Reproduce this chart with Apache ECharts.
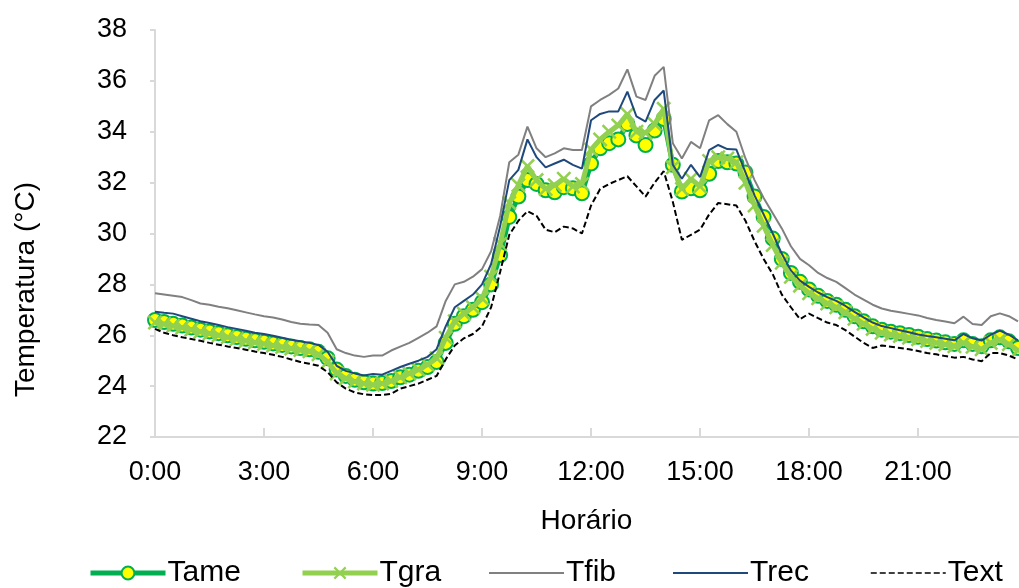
<!DOCTYPE html>
<html>
<head>
<meta charset="utf-8">
<script src="https://cdn.jsdelivr.net/npm/echarts@6/dist/echarts.min.js"></script>
<style>
  html, body { margin: 0; padding: 0; background: #ffffff; }
  #chart { width: 1019px; height: 588px; }
</style>
</head>
<body>
<div id="chart"></div>
<script>
// Daily temperature record, one reading every 15 minutes (0:00 – 23:45), in °C
const hours = ['0', '1', '2', '3', '4', '5', '6', '7', '8', '9', '10', '11',
               '12', '13', '14', '15', '16', '17', '18', '19', '20', '21', '22', '23'];
const minutes = ['00', '15', '30', '45'];
const categories = [];
hours.forEach(h => minutes.forEach(m => categories.push(h + ':' + m)));

const seriesNames = ['Tame', 'Tgra', 'Tfib', 'Trec', 'Text'];

const tame = [
  26.60, 26.52, 26.45, 26.38, 26.30, 26.22, 26.15, 26.08, 26.00, 25.93, 25.86, 25.80,
  25.74, 25.68, 25.62, 25.56, 25.50, 25.45, 25.35, 25.10, 24.65, 24.40, 24.25, 24.15,
  24.10, 24.12, 24.20, 24.35, 24.45, 24.60, 24.75, 24.95, 25.70, 26.45, 26.75, 27.00,
  27.30, 28.00, 29.15, 30.65, 31.45, 32.10, 31.95, 31.70, 31.62, 31.82, 31.78, 31.58,
  32.75, 33.35, 33.55, 33.70, 34.30, 33.85, 33.48, 34.05, 34.50, 32.70, 31.65, 31.78,
  31.70, 32.35, 32.85, 32.80, 32.75, 32.40, 31.45, 30.65, 29.80, 29.00, 28.45, 28.10,
  27.80, 27.55, 27.35, 27.20, 27.00, 26.75, 26.55, 26.35, 26.22, 26.14, 26.08, 26.01,
  25.94, 25.85, 25.79, 25.72, 25.66, 25.80, 25.66, 25.57, 25.80, 25.92, 25.76, 25.50
];

const tgra = [
  26.50, 26.44, 26.37, 26.30, 26.22, 26.14, 26.07, 26.00, 25.92, 25.85, 25.78, 25.72,
  25.66, 25.60, 25.54, 25.48, 25.42, 25.37, 25.25, 24.95, 24.50, 24.30, 24.18, 24.10,
  24.05, 24.10, 24.20, 24.35, 24.50, 24.65, 24.85, 25.10, 25.90, 26.55, 26.85, 27.10,
  27.45, 28.30, 29.60, 31.20, 31.90, 32.65, 32.10, 31.75, 31.90, 32.15, 31.85, 31.95,
  33.30, 33.70, 34.00, 34.25, 34.70, 34.00, 33.95, 34.30, 34.90, 32.60, 31.75, 32.15,
  31.85, 32.85, 33.00, 32.95, 32.80, 32.00, 31.10, 30.30, 29.55, 28.85, 28.30, 27.95,
  27.65, 27.45, 27.25, 27.10, 26.90, 26.65, 26.45, 26.25, 26.10, 26.03, 25.97, 25.90,
  25.84, 25.77, 25.70, 25.64, 25.57, 25.70, 25.55, 25.45, 25.70, 25.82, 25.65, 25.40
];

const tfib = [
  27.65, 27.60, 27.55, 27.50, 27.38, 27.25, 27.20, 27.12, 27.06, 26.98, 26.90, 26.82,
  26.75, 26.70, 26.62, 26.52, 26.45, 26.42, 26.40, 26.10, 25.45, 25.30, 25.20, 25.15,
  25.20, 25.20, 25.40, 25.55, 25.70, 25.90, 26.10, 26.35, 27.35, 28.00, 28.10, 28.30,
  28.60, 29.30, 30.70, 32.80, 33.10, 34.20, 33.35, 33.00, 33.15, 33.35, 33.28, 33.28,
  35.00, 35.25, 35.45, 35.70, 36.45, 35.38, 35.25, 36.20, 36.55, 33.55, 32.95, 33.60,
  33.35, 34.45, 34.65, 34.30, 34.00, 32.95, 32.10, 31.40, 30.80, 30.20, 29.50, 29.00,
  28.75, 28.45, 28.25, 28.10, 27.85, 27.60, 27.40, 27.20, 27.05, 26.96, 26.90, 26.84,
  26.78, 26.68, 26.60, 26.54, 26.47, 26.73, 26.44, 26.40, 26.75, 26.86, 26.75, 26.55
];

const trec = [
  26.92, 26.88, 26.85, 26.75, 26.65, 26.55, 26.48, 26.40, 26.32, 26.25, 26.18, 26.10,
  26.05, 25.98, 25.90, 25.82, 25.76, 25.70, 25.62, 25.35, 24.80, 24.60, 24.50, 24.42,
  24.48, 24.45, 24.60, 24.75, 24.88, 25.00, 25.15, 25.45, 26.35, 27.10, 27.35, 27.60,
  28.00, 28.80, 30.30, 32.10, 32.50, 33.70, 33.00, 32.60, 32.75, 32.90, 32.70, 32.55,
  34.45, 34.70, 34.80, 34.80, 35.58, 34.60, 34.40, 35.25, 35.62, 32.70, 32.15, 32.70,
  32.22, 33.28, 33.48, 33.32, 33.30, 32.40, 31.50, 30.75, 30.00, 29.20, 28.55, 28.15,
  27.90, 27.68, 27.50, 27.35, 27.15, 26.92, 26.70, 26.50, 26.36, 26.28, 26.20, 26.12,
  26.03, 25.97, 25.92, 25.86, 25.80, 26.05, 25.88, 25.79, 26.02, 26.18, 26.02, 25.80
];

const text = [
  26.25, 26.10, 26.00, 25.92, 25.85, 25.78, 25.70, 25.63, 25.56, 25.50, 25.43, 25.36,
  25.30, 25.23, 25.15, 25.05, 24.95, 24.88, 24.80, 24.55, 24.15, 23.90, 23.75, 23.68,
  23.65, 23.65, 23.70, 23.90, 24.00, 24.10, 24.25, 24.40, 25.05, 25.60, 25.88, 26.05,
  26.35, 27.10, 28.50, 29.95, 30.50, 30.88, 30.70, 30.15, 30.05, 30.27, 30.20, 30.00,
  31.10, 31.75, 31.95, 32.10, 32.25, 31.85, 31.45, 32.00, 32.45, 31.25, 29.75, 29.95,
  30.15, 30.75, 31.20, 31.15, 31.10, 30.50, 29.70, 29.00, 28.40, 27.60, 27.10, 26.63,
  26.85, 26.67, 26.50, 26.40, 26.20, 25.95, 25.70, 25.50, 25.60, 25.55, 25.50, 25.45,
  25.38, 25.30, 25.25, 25.18, 25.12, 25.15, 25.05, 24.98, 25.30, 25.30, 25.20, 25.05
];

const yTicks = { min: 22, max: 38, step: 2 };

const FONT = 'Liberation Sans, Arial, sans-serif';
const AXIS_GREY = '#d9d9d9';

// thin "x" cross used as the Tgra marker
const crossPath = 'path://M0,1.2L1.2,0L5,3.8L8.8,0L10,1.2L6.2,5L10,8.8L8.8,10L5,6.2L1.2,10L0,8.8L3.8,5Z';

// legend line weights follow the series they stand for
const legendLineWidth = [5, 5, 2, 2, 1.5];

// one legend block per series, laid out left to right along the bottom
const legendLeft = [88, 300, 488, 672, 870];
const legends = seriesNames.map((name, i) => ({
  data: [{
    name,
    itemStyle: i >= 2 ? { opacity: 0 } : undefined,
    lineStyle: { width: legendLineWidth[i] }
  }],
  left: legendLeft[i],
  top: 558,
  itemWidth: 75,
  itemHeight: 16,
  padding: 0,
  selectedMode: false,
  textStyle: { fontFamily: FONT, fontSize: 30, color: '#000000', padding: [0, 0, 0, -3] }
}));

const chart = echarts.init(document.getElementById('chart'), null, { renderer: 'canvas' });

chart.setOption({
  animation: false,
  backgroundColor: '#ffffff',
  textStyle: { fontFamily: FONT },
  grid: { left: 155, right: 1, top: 30, bottom: 151, containLabel: false },
  legend: legends,
  graphic: [{
    type: 'text',
    left: 12,
    top: 182,
    rotation: Math.PI / 2,
    style: {
      text: 'Temperatura (°C)',
      fontFamily: FONT,
      fontSize: 28,
      fill: '#000000'
    }
  }],
  xAxis: {
    type: 'category',
    data: categories,
    boundaryGap: false,
    name: 'Horário',
    nameLocation: 'middle',
    nameGap: 70,
    nameTextStyle: { fontFamily: FONT, fontSize: 28, color: '#000000' },
    axisLine: { lineStyle: { color: AXIS_GREY, width: 2 } },
    axisTick: { show: true, inside: true, length: 9, interval: 11, lineStyle: { color: AXIS_GREY, width: 2 } },
    axisLabel: { interval: 11, margin: 22, fontFamily: FONT, fontSize: 27, color: '#000000' },
    splitLine: { show: false }
  },
  yAxis: {
    type: 'value',
    min: yTicks.min,
    max: yTicks.max,
    interval: yTicks.step,
    axisLine: { show: true, lineStyle: { color: AXIS_GREY, width: 2 } },
    axisTick: { show: true, inside: false, length: 5, lineStyle: { color: AXIS_GREY, width: 2 } },
    axisLabel: { margin: 28, fontFamily: FONT, fontSize: 27, color: '#000000' },
    splitLine: { show: false }
  },
  series: [
    {
      name: 'Tame', type: 'line', data: tame, z: 2,
      symbol: 'circle', symbolSize: 14, showSymbol: true, showAllSymbol: true,
      lineStyle: { color: '#00b050', width: 5 },
      itemStyle: { color: '#ffff00', borderColor: '#00b050', borderWidth: 2 }
    },
    {
      name: 'Tgra', type: 'line', data: tgra, z: 3,
      symbol: crossPath, symbolSize: 15, showSymbol: true, showAllSymbol: true,
      lineStyle: { color: '#92d050', width: 5 },
      itemStyle: { color: '#92d050', borderWidth: 0 }
    },
    {
      name: 'Tfib', type: 'line', data: tfib, z: 4,
      symbol: 'none',
      lineStyle: { color: '#808080', width: 2 },
      itemStyle: { color: '#808080' }
    },
    {
      name: 'Trec', type: 'line', data: trec, z: 5,
      symbol: 'none',
      lineStyle: { color: '#1f497d', width: 2 },
      itemStyle: { color: '#1f497d' }
    },
    {
      name: 'Text', type: 'line', data: text, z: 6,
      symbol: 'none',
      lineStyle: { color: '#000000', width: 2, type: [6, 3] },
      itemStyle: { color: '#000000' }
    }
  ]
});
</script>
</body>
</html>
